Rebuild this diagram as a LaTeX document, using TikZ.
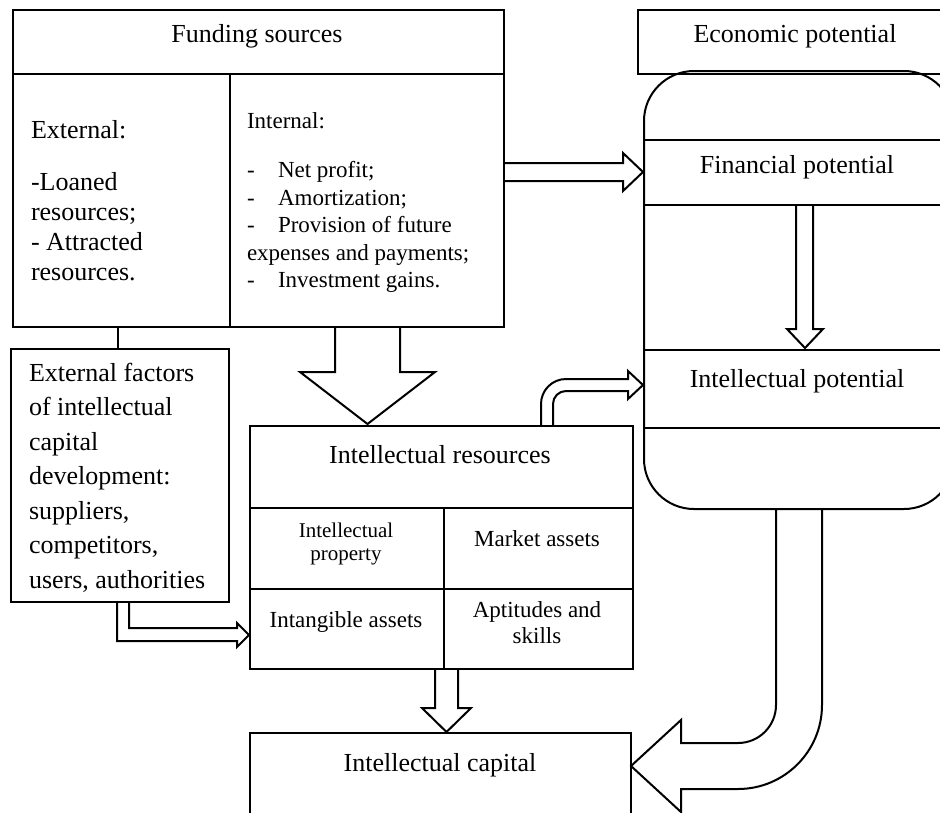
\documentclass[tikz,border=0pt]{standalone}
\usepackage{fontspec}
\setmainfont{Liberation Serif}
\begin{document}
\begin{tikzpicture}[x=1pt,y=-1pt,line width=2pt,
  box/.style={draw,line width=2pt,inner sep=0pt,anchor=north west},
  blk/.style={draw,fill=white,line width=2pt,line join=miter},
  tA/.style={font=\fontsize{26}{30}\selectfont,anchor=base,inner sep=0pt},
  tAl/.style={font=\fontsize{26}{30}\selectfont,anchor=base west,inner sep=0pt},
  tB/.style={font=\fontsize{23}{27}\selectfont,anchor=base west,inner sep=0pt},
  tC/.style={font=\fontsize{23}{27}\selectfont,anchor=base,inner sep=0pt},
  tD/.style={font=\fontsize{21}{25}\selectfont,anchor=base,inner sep=0pt}]
\fill[white] (0,0) rectangle (940,812);
\useasboundingbox (0,0) rectangle (940,812);
\clip (0,0) rectangle (940,812);

% Block arrows (drawn first so box borders stay intact)
\draw[blk] (503,163) -- (623,163) -- (623,153) -- (643,172) -- (623,191) -- (623,181) -- (503,181);
\draw[blk] (796,204) -- (796,329) -- (787,329) -- (805,348) -- (823,329) -- (813,329) -- (813,204);
\draw[blk] (335,326) -- (335,372) -- (300,372) -- (367.5,424) -- (435,372) -- (400,372) -- (400,326);
\draw[blk] (541,425) -- (541,404) arc[start angle=180,end angle=270,radius=25]
  -- (628,379) -- (628,371) -- (643,385) -- (628,399) -- (628,391) -- (566,391)
  arc[start angle=270,end angle=180,radius=13] -- (553,425);
\draw[blk] (117,601) -- (117,641) -- (237,641) -- (237,647) -- (249,635) -- (237,623) -- (237,628) -- (129,628) -- (129,601);
\draw[blk] (435,668) -- (435,708) -- (422,708) -- (446.5,732) -- (471,708) -- (458,708) -- (458,668);
\draw[blk] (822,508) -- (822,705) arc[start angle=0,end angle=90,radius=84]
  -- (681,789) -- (681,812) -- (631,766) -- (681,720) -- (681,743) -- (738,743)
  arc[start angle=90,end angle=0,radius=38] -- (776,508);

% Funding sources
\node[box,minimum width=491pt,minimum height=64pt] (fund) at (12,9) {};
\node[box,minimum width=217pt,minimum height=253pt] (ext) at (12,73) {};
\node[box,minimum width=274pt,minimum height=253pt] (int) at (229,73) {};
\node[tA] (tfund) at (257,42) {Funding sources};
\node[tAl] (te1) at (30,138) {External:};
\node[tAl] (te2) at (30,190) {-Loaned};
\node[tAl] (te3) at (30,220) {resources;};
\node[tAl] (te4) at (30,250) {- Attracted};
\node[tAl] (te5) at (30,280) {resources.};
\node[tB] (ti0) at (246,128) {Internal:};
\node[tB] (ti1d) at (246,177) {-};
\node[tB] (ti1) at (277,177) {Net profit;};
\node[tB] (ti2d) at (246,205) {-};
\node[tB] (ti2) at (277,205) {Amortization;};
\node[tB] (ti3d) at (246,232) {-};
\node[tB] (ti3) at (277,232) {Provision of future};
\node[tB] (ti4) at (246,260) {expenses and payments;};
\node[tB] (ti5d) at (246,287) {-};
\node[tB] (ti5) at (277,287) {Investment gains.};

% Economic potential
\node[box,minimum width=323pt,minimum height=64pt] (econ) at (637,9) {};
\node[tA] (tecon) at (795,42) {Economic potential};
\node[box,rounded corners=50pt,minimum width=310pt,minimum height=438pt] (pot) at (643,70) {};
\node[box,minimum width=310pt,minimum height=65pt] (fin) at (643,139) {};
\node[tA] (tfin) at (797,173) {Financial potential};
\node[box,minimum width=310pt,minimum height=78pt] (ipot) at (643,349) {};
\node[tA] (tipot) at (797,387) {Intellectual potential};

% External factors
\node[box,minimum width=218pt,minimum height=253pt] (fac) at (10,348) {};
\node[tAl] (tf1) at (28,381) {External factors};
\node[tAl] (tf2) at (28,415.5) {of intellectual};
\node[tAl] (tf3) at (28,450) {capital};
\node[tAl] (tf4) at (28,484.5) {development:};
\node[tAl] (tf5) at (28,519) {suppliers,};
\node[tAl] (tf6) at (28,553.5) {competitors,};
\node[tAl] (tf7) at (28,588) {users, authorities};
\draw (118,0 |- ext.south) -- (118,0 |- fac.north);

% Intellectual resources
\node[box,minimum width=383pt,minimum height=82pt] (ires) at (249,425) {};
\node[tA] (tires) at (440,463) {Intellectual resources};
\node[box,minimum width=194pt,minimum height=81pt] (c1) at (249,507) {};
\node[box,minimum width=189pt,minimum height=81pt] (c2) at (443,507) {};
\node[box,minimum width=194pt,minimum height=80pt] (c3) at (249,588) {};
\node[box,minimum width=189pt,minimum height=80pt] (c4) at (443,588) {};
\node[tD] (tc1a) at (346,537) {Intellectual};
\node[tD] (tc1b) at (346,560) {property};
\node[tC] (tc2) at (537,546) {Market assets};
\node[tC] (tc3) at (346,627) {Intangible assets};
\node[tC] (tc4a) at (537,617) {Aptitudes and};
\node[tC] (tc4b) at (537,643) {skills};

% Intellectual capital
\node[box,minimum width=381pt,minimum height=98pt] (icap) at (249,732) {};
\node[tA] (ticap) at (440,771) {Intellectual capital};
\end{tikzpicture}
\end{document}
